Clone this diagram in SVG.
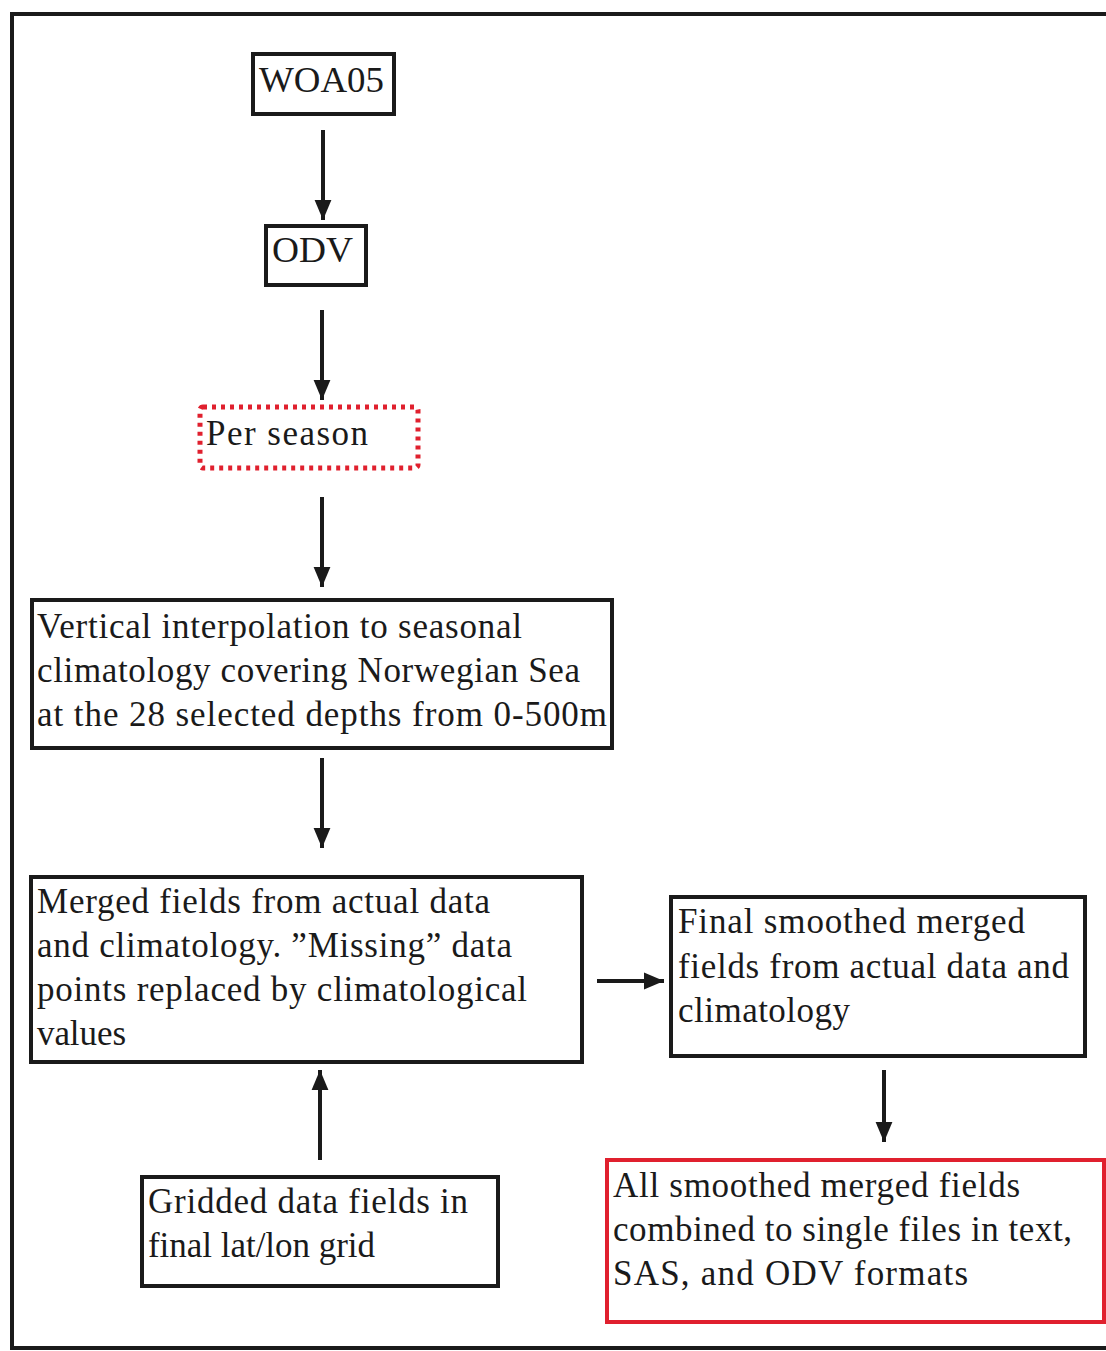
<svg xmlns="http://www.w3.org/2000/svg" width="1106" height="1351" viewBox="0 0 1106 1351">
<style>
.box{fill:#fff;stroke:#1a1a1a;stroke-width:4}
.red{fill:#fff;stroke:#e0202e;stroke-width:4}
.dot{fill:#fff;stroke:#e0202e;stroke-width:5;stroke-dasharray:4 5}
.t{font-family:"Liberation Serif","Times New Roman",serif;font-size:35px;fill:#1a1a1a}
.c{stroke:#1a1a1a;stroke-width:4;fill:none}
</style>
<defs>
<marker id="ah" markerWidth="6" markerHeight="6" refX="5" refY="3" orient="auto" markerUnits="strokeWidth">
<path d="M0,0.9 L5,3 L0,5.1 Z" fill="#1a1a1a"/>
</marker>
</defs>
<rect width="1106" height="1351" fill="#fff"/>
<path d="M1110,14 L12,14 L12,1348 L1110,1348" fill="none" stroke="#1a1a1a" stroke-width="4"/>
<g id="connectors">
<line class="c" x1="323" y1="130" x2="323" y2="220" marker-end="url(#ah)"/>
<line class="c" x1="322" y1="310" x2="322" y2="400" marker-end="url(#ah)"/>
<line class="c" x1="322" y1="497" x2="322" y2="587" marker-end="url(#ah)"/>
<line class="c" x1="322" y1="758" x2="322" y2="848" marker-end="url(#ah)"/>
<line class="c" x1="597" y1="981" x2="664" y2="981" marker-end="url(#ah)"/>
<line class="c" x1="884" y1="1070" x2="884" y2="1142" marker-end="url(#ah)"/>
<line class="c" x1="320" y1="1160" x2="320" y2="1070" marker-end="url(#ah)"/>
</g>
<g id="woa05">
<rect class="box" x="253" y="54" width="141" height="60"/>
<text class="t" x="259" y="92" textLength="125" lengthAdjust="spacingAndGlyphs">WOA05</text>
</g>
<g id="odv">
<rect class="box" x="266" y="226" width="100" height="59"/>
<text class="t" x="272" y="262" textLength="81" lengthAdjust="spacingAndGlyphs">ODV</text>
</g>
<g id="per-season">
<rect class="dot" x="200" y="407" width="218" height="61" rx="3"/>
<text class="t" x="206" y="445" textLength="162" lengthAdjust="spacing">Per season</text>
</g>
<g id="vertical">
<rect class="box" x="32" y="600" width="580" height="148"/>
<text class="t" x="37" y="638" textLength="485" lengthAdjust="spacing">Vertical interpolation to seasonal</text>
<text class="t" x="37" y="682" textLength="543" lengthAdjust="spacing">climatology covering Norwegian Sea</text>
<text class="t" x="37" y="726" textLength="570" lengthAdjust="spacing">at the 28 selected depths from 0-500m</text>
</g>
<g id="merged">
<rect class="box" x="31" y="877" width="551" height="185"/>
<text class="t" x="37" y="913" textLength="453" lengthAdjust="spacing">Merged fields from actual data</text>
<text class="t" x="37" y="957" textLength="475" lengthAdjust="spacing">and climatology. ”Missing” data</text>
<text class="t" x="37" y="1001" textLength="490" lengthAdjust="spacing">points replaced by climatological</text>
<text class="t" x="37" y="1045" textLength="89" lengthAdjust="spacing">values</text>
</g>
<g id="final">
<rect class="box" x="671" y="897" width="414" height="159"/>
<text class="t" x="678" y="933" textLength="347" lengthAdjust="spacing">Final smoothed merged</text>
<text class="t" x="678" y="978" textLength="391" lengthAdjust="spacing">fields from actual data and</text>
<text class="t" x="678" y="1022" textLength="172" lengthAdjust="spacing">climatology</text>
</g>
<g id="all-smoothed">
<rect class="red" x="607" y="1160" width="497" height="162"/>
<text class="t" x="613" y="1197" textLength="407" lengthAdjust="spacing">All smoothed merged fields</text>
<text class="t" x="613" y="1241" textLength="459" lengthAdjust="spacing">combined to single files in text,</text>
<text class="t" x="613" y="1285" textLength="355" lengthAdjust="spacing">SAS, and ODV formats</text>
</g>
<g id="gridded">
<rect class="box" x="142" y="1177" width="356" height="109"/>
<text class="t" x="148" y="1213" textLength="320" lengthAdjust="spacing">Gridded data fields in</text>
<text class="t" x="148" y="1257" textLength="227" lengthAdjust="spacing">final lat/lon grid</text>
</g>
</svg>
